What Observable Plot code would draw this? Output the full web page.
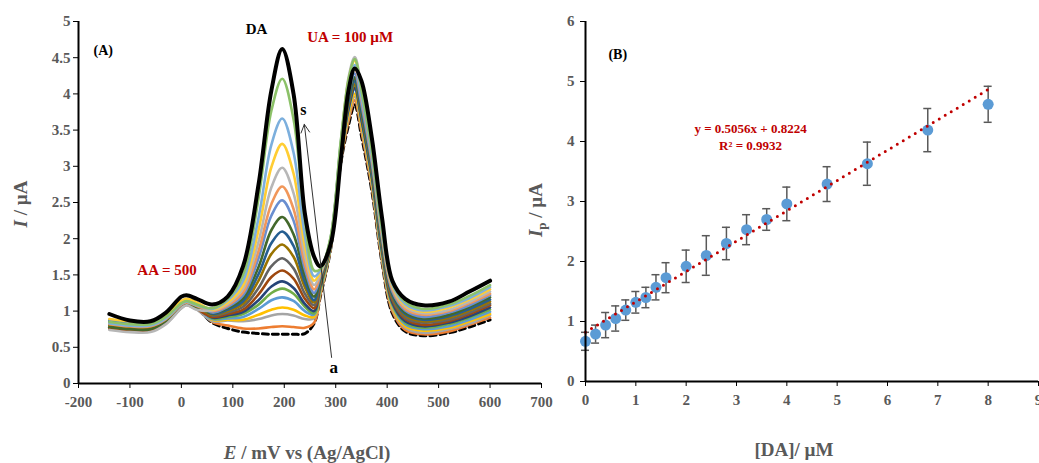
<!DOCTYPE html>
<html><head><meta charset="utf-8">
<script src="https://cdn.jsdelivr.net/npm/d3@7"></script>
<script src="https://cdn.jsdelivr.net/npm/@observablehq/plot@0.6"></script>
<style>
body{margin:0;background:#fff;}
#wrap{position:relative;width:1039px;height:463px;overflow:hidden;font-family:"Liberation Serif","Times New Roman",serif;background:#fff;}
.pa{position:absolute;top:0;}
.lbl{position:absolute;color:#595959;font-weight:bold;font-size:19px;white-space:nowrap;line-height:1;}
</style></head><body>
<div id="wrap">
  <div id="A" class="pa" style="left:0px"></div>
  <div id="B" class="pa" style="left:500px"></div>
  <div class="lbl" style="left:20px;top:204px;transform:translate(-50%,-50%) rotate(-90deg)"><i>I</i> / µA</div>
  <div class="lbl" style="left:307px;top:452px;transform:translate(-50%,-50%)"><i>E</i> / mV vs (Ag/AgCl)</div>
  <div class="lbl" style="left:537px;top:210px;transform:translate(-50%,-50%) rotate(-90deg)"><i>I</i><sub style="font-size:13px">p</sub> / µA</div>
  <div class="lbl" style="left:794px;top:449px;transform:translate(-50%,-50%)">[DA]/ µM</div>
</div>
<script>
// ---------- Panel A data: DPV curves (E in mV, I in µA) ----------
const potential = [-140,-100,-60,-30,0,10,30,60,90,120,150,175,196,218,240,258,270,290,310,325,337,350,370,390,410,435,470,520,560,600];
const curveA = [.77,.74,.74,.85,1.06,1.09,1.04,.84,.76,.71,.69,.68,.68,.68,.69,.83,1.20,1.85,3.05,3.57,3.85,3.42,2.67,1.67,.97,.72,.66,.70,.78,.88];
const curveB = [.83,.80,.80,.90,1.10,1.13,1.08,.85,.80,.76,.76,.78,.79,.78,.77,.84,1.22,1.86,3.07,3.63,3.91,3.48,2.72,1.70,1.00,.74,.68,.72,.81,.91];
const curveC = [.75,.72,.72,.83,1.04,1.08,1.02,.86,.87,.86,.89,.94,.96,.94,.89,.90,1.25,1.87,3.09,3.68,3.96,3.53,2.76,1.73,1.03,.77,.70,.75,.83,.94];
const curveD = [.85,.82,.82,.92,1.11,1.14,1.09,.88,.88,.88,.95,1.02,1.05,1.02,.94,.92,1.27,1.88,3.10,3.72,4.00,3.57,2.79,1.76,1.05,.79,.73,.77,.86,.96];
const curveE = [.79,.76,.76,.86,1.07,1.11,1.05,.89,.90,.92,1.03,1.15,1.19,1.14,1.00,.95,1.30,1.89,3.12,3.78,4.06,3.63,2.84,1.79,1.08,.82,.75,.79,.88,.99];
const curveF = [.87,.84,.84,.94,1.13,1.15,1.11,.90,.92,.96,1.09,1.25,1.31,1.24,1.06,.97,1.32,1.90,3.14,3.82,4.10,3.67,2.87,1.82,1.10,.84,.77,.82,.91,1.02];
const curveG = [.81,.78,.78,.88,1.09,1.12,1.07,.91,.94,.99,1.15,1.34,1.41,1.32,1.10,1.00,1.35,1.91,3.16,3.80,4.08,3.65,2.87,1.84,1.12,.86,.79,.84,.93,1.05];
const curveH = [.76,.73,.73,.84,1.05,1.09,1.03,.92,.96,1.02,1.23,1.47,1.56,1.45,1.17,1.04,1.38,1.92,3.18,3.92,4.20,3.77,2.95,1.89,1.15,.89,.81,.86,.96,1.08];
const curveI = [.84,.81,.81,.91,1.11,1.14,1.09,.94,.98,1.06,1.32,1.62,1.73,1.59,1.24,1.08,1.40,1.93,3.19,3.88,4.16,3.73,2.94,1.89,1.17,.91,.84,.88,.98,1.10];
const curveJ = [.80,.77,.77,.87,1.08,1.11,1.06,.95,1.00,1.10,1.42,1.79,1.92,1.75,1.33,1.12,1.42,1.94,3.21,3.85,4.13,3.70,2.93,1.90,1.19,.94,.86,.91,1.01,1.13];
const curveK = [.86,.83,.83,.93,1.12,1.15,1.10,.96,1.02,1.14,1.51,1.94,2.10,1.90,1.40,1.15,1.44,1.95,3.23,3.90,4.18,3.75,2.97,1.93,1.22,.96,.88,.93,1.03,1.16];
const curveL = [.78,.75,.75,.86,1.07,1.10,1.05,.97,1.04,1.18,1.61,2.12,2.30,2.06,1.49,1.20,1.46,1.96,3.25,3.95,4.23,3.80,3.01,1.96,1.25,.98,.90,.95,1.06,1.19];
const curveM = [.88,.85,.85,.95,1.14,1.16,1.12,.98,1.06,1.22,1.73,2.32,2.53,2.25,1.58,1.25,1.48,1.97,3.27,4.00,4.28,3.85,3.05,2.00,1.27,1.01,.92,.98,1.08,1.22];
const curveN = [.82,.79,.79,.89,1.09,1.12,1.07,1.00,1.08,1.26,1.83,2.48,2.72,2.41,1.66,1.30,1.50,1.98,3.28,4.08,4.36,3.93,3.11,2.04,1.30,1.03,.95,1.00,1.11,1.24];
const curveO = [.74,.71,.71,.82,1.04,1.08,1.02,1.01,1.10,1.31,1.96,2.71,2.98,2.63,1.77,1.36,1.52,1.99,3.30,4.23,4.51,4.08,3.21,2.10,1.33,1.06,.97,1.02,1.13,1.27];
const curveP = [.89,.86,.86,.95,1.14,1.17,1.12,1.02,1.12,1.36,2.12,2.99,3.31,2.90,1.90,1.42,1.54,2.00,3.32,4.18,4.46,4.03,3.19,2.10,1.35,1.08,.99,1.05,1.16,1.30];
const curveQ = [.83,.80,.80,.90,1.10,1.13,1.08,1.03,1.15,1.42,2.29,3.30,3.66,3.19,2.04,1.48,1.56,2.01,3.34,4.12,4.40,3.97,3.16,2.10,1.37,1.10,1.01,1.07,1.18,1.33];
const curveR = [.85,.82,.82,.92,1.11,1.14,1.09,1.04,1.17,1.50,2.56,3.77,4.21,3.65,2.25,1.56,1.58,2.02,3.36,4.20,4.48,4.05,3.22,2.14,1.40,1.13,1.03,1.09,1.21,1.36];
const curveS = [.96,.87,.86,.98,1.20,1.22,1.17,1.09,1.20,1.62,2.75,4.05,4.62,4.00,2.35,1.75,1.62,1.92,3.10,4.05,4.35,4.18,3.40,2.29,1.42,1.17,1.08,1.13,1.27,1.42];
const curveNames = ["a","b","c","d","e","f","g","h","i","j","k","l","m","n","o","p","q","r","s"];
const curveColors = ["#000000","#ED7D31","#A5A5A5","#FFC000","#5B9BD5","#70AD47","#264478","#9E480E","#636363","#997300","#255E91","#43682B","#698ED0","#F1975A","#B7B7B7","#FFCD33","#7CAFDD","#8CC168","#000000"];
const xTicksA = [-200,-100,0,100,200,300,400,500,600,700];
const yTicksA = [0,0.5,1,1.5,2,2.5,3,3.5,4,4.5,5];

// ---------- Panel B data: calibration ----------
const concDA = [0,0.2,0.4,0.6,0.8,1,1.2,1.4,1.6,2,2.4,2.8,3.2,3.6,4,4.8,5.6,6.8,8];
const peakIp = [0.67,0.79,0.94,1.05,1.19,1.32,1.40,1.57,1.73,1.92,2.10,2.30,2.53,2.70,2.96,3.29,3.63,4.19,4.62];
const errIp  = [0.15,0.15,0.21,0.21,0.17,0.18,0.17,0.21,0.25,0.27,0.33,0.27,0.25,0.18,0.28,0.29,0.36,0.36,0.30];
const fitX = [0, 8];
const fitY = [0.8224, 4.867];
const xTicksB = [0,1,2,3,4,5,6,7,8,9];
const yTicksB = [0,1,2,3,4,5,6];

// annotations
const annoA = [
  {x:-152, y:4.60, t:"(A)", c:"#000", s:14},
  {x:146, y:4.90, t:"DA", c:"#000", s:15},
  {x:328, y:4.78, t:"UA = 100 µM", c:"#C00000", s:15},
  {x:-28, y:1.56, t:"AA = 500", c:"#C00000", s:15},
  {x:237, y:3.78, t:"s", c:"#000", s:16},
  {x:296, y:0.22, t:"a", c:"#000", s:17}
];
const arrowA = [{x1:292, y1:0.36, x2:239, y2:3.58}];
const annoB = [
  {x:0.64, y:5.45, t:"(B)", c:"#000", s:14},
  {x:3.28, y:4.21, t:"y = 0.5056x + 0.8224", c:"#C00000", s:13},
  {x:3.28, y:3.92, t:"R² = 0.9932", c:"#C00000", s:13}
];

// ---------- build tables ----------
const curveValues = [curveA,curveB,curveC,curveD,curveE,curveF,curveG,curveH,curveI,curveJ,curveK,curveL,curveM,curveN,curveO,curveP,curveQ,curveR,curveS];
const rowsAll = [];
curveValues.forEach((vals, k) => vals.forEach((v, j) => rowsAll.push({E: potential[j], I: v, curve: curveNames[k]})));
const rowsDash = rowsAll.filter(d => d.curve === "a");
const rowsTop = rowsAll.filter(d => d.curve === "s");
const rowsColored = rowsAll.filter(d => d.curve !== "a" && d.curve !== "s");
const rowsB = concDA.map((c, i) => ({c, ip: peakIp[i], lo: peakIp[i] - errIp[i], hi: peakIp[i] + errIp[i]}));
const fitRows = fitX.map((x, i) => ({x, y: fitY[i]}));

const baseStyle = {fontFamily: "'Liberation Serif','Times New Roman',serif", fontSize: "15px", fontWeight: "bold", background: "transparent", overflow: "visible", maxWidth: "none"};
const fmt = d => String(d);

const plotA = Plot.plot({
  width: 560, height: 463,
  marginLeft: 78, marginRight: 19, marginTop: 21, marginBottom: 80,
  x: {domain: [-200, 700]},
  y: {domain: [0, 5]},
  color: {type: "ordinal", domain: curveNames.slice(1, 18), range: curveColors.slice(1, 18)},
  style: baseStyle,
  marks: [
    Plot.line(rowsDash, {x: "E", y: "I", stroke: curveColors[0], strokeWidth: 3, strokeDasharray: "6,4", curve: "catmull-rom"}),
    Plot.line(rowsColored, {x: "E", y: "I", z: "curve", stroke: "curve", strokeWidth: 2.6, curve: "catmull-rom"}),
    Plot.line(rowsTop, {x: "E", y: "I", stroke: curveColors[18], strokeWidth: 4, curve: "catmull-rom"}),
    Plot.arrow(arrowA, {x1: "x1", y1: "y1", x2: "x2", y2: "y2", stroke: "#333", strokeWidth: 1, headLength: 14, headAngle: 55}),
    Plot.text(annoA, {x: "x", y: "y", text: "t", fill: "c", fontSize: "s", fontWeight: "bold"}),
    Plot.ruleY([0], {stroke: "#000", strokeWidth: 2}),
    Plot.ruleX([-200], {stroke: "#000", strokeWidth: 2}),
    Plot.axisX(xTicksA, {label: null, tickSize: 5, tickPadding: 8, tickFormat: fmt, stroke: "#000", fill: "#595959", fontSize: 15, fontWeight: "bold"}),
    Plot.axisY(yTicksA, {label: null, tickSize: 5, tickPadding: 3, tickFormat: fmt, stroke: "#000", fill: "#595959", fontSize: 15, fontWeight: "bold"})
  ]
});
document.getElementById("A").appendChild(plotA);

const plotB = Plot.plot({
  width: 539, height: 463,
  marginLeft: 85, marginRight: 1, marginTop: 21, marginBottom: 82,
  x: {domain: [0, 9]},
  y: {domain: [0, 6]},
  style: baseStyle,
  marks: [
    Plot.ruleX(rowsB, {x: "c", y1: "lo", y2: "hi", stroke: "#595959", strokeWidth: 1.5}),
    Plot.ruleY(rowsB, {y: "hi", x1: "c", x2: "c", insetLeft: -4, insetRight: -4, stroke: "#595959", strokeWidth: 1.5}),
    Plot.ruleY(rowsB, {y: "lo", x1: "c", x2: "c", insetLeft: -4, insetRight: -4, stroke: "#595959", strokeWidth: 1.5}),
    Plot.dot(rowsB, {x: "c", y: "ip", r: 5.5, fill: "#5B9BD5", stroke: "none"}),
    Plot.line(fitRows, {x: "x", y: "y", stroke: "#C00000", strokeWidth: 3, strokeDasharray: "0,7", strokeLinecap: "round"}),
    Plot.text(annoB, {x: "x", y: "y", text: "t", fill: "c", fontSize: "s", fontWeight: "bold"}),
    Plot.ruleY([0], {stroke: "#000", strokeWidth: 2}),
    Plot.ruleX([0], {stroke: "#000", strokeWidth: 2}),
    Plot.axisX(xTicksB, {label: null, tickSize: 5, tickPadding: 8, tickFormat: fmt, stroke: "#000", fill: "#595959", fontSize: 15, fontWeight: "bold"}),
    Plot.axisY(yTicksB, {label: null, tickSize: 5, tickPadding: 6, tickFormat: fmt, stroke: "#000", fill: "#595959", fontSize: 15, fontWeight: "bold"})
  ]
});
document.getElementById("B").appendChild(plotB);
</script>
</body></html>
